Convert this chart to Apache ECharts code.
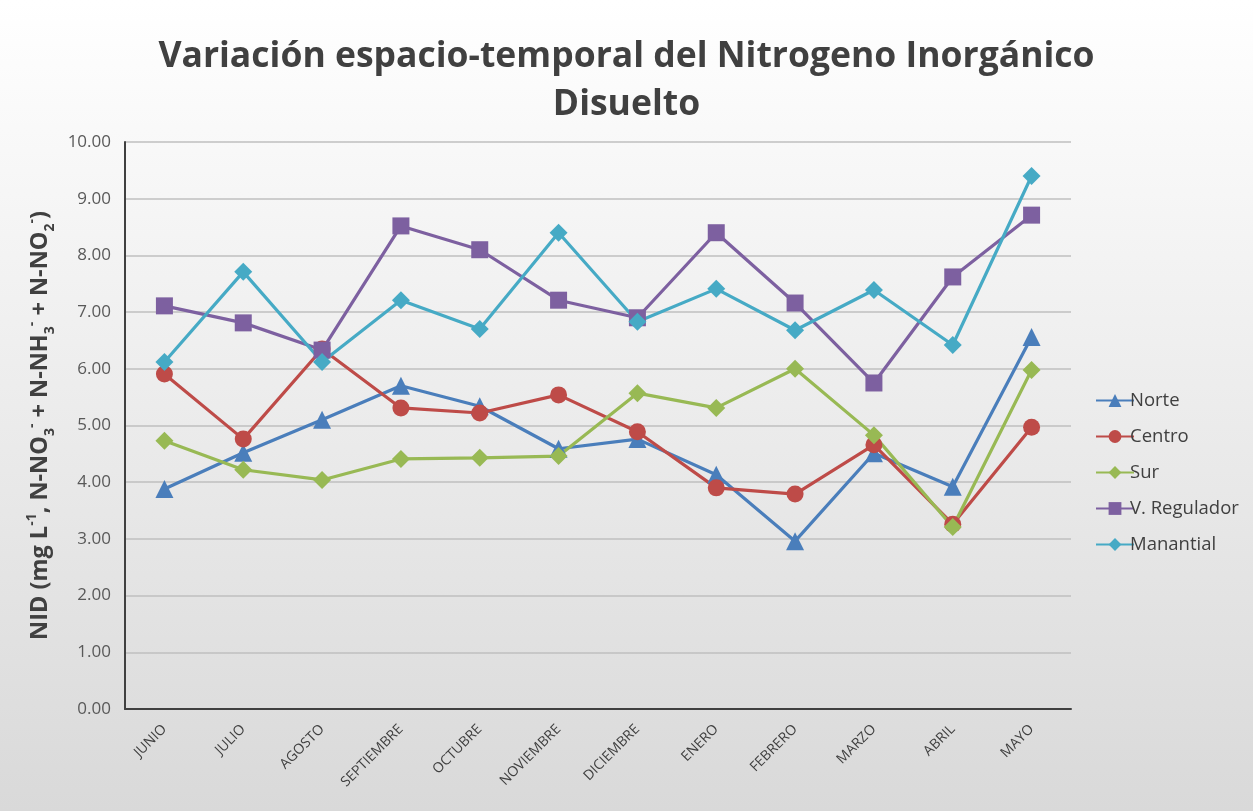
<!DOCTYPE html>
<html>
<head>
<meta charset="utf-8">
<script src="https://cdn.jsdelivr.net/npm/echarts@6/dist/echarts.min.js"></script>
<style>
  html, body { margin: 0; padding: 0; }
  #chart { width: 1253px; height: 811px; }
</style>
</head>
<body>
<div id="chart"></div>
<script>
// meses del muestreo
var meses = ['JUNIO', 'JULIO', 'AGOSTO', 'SEPTIEMBRE', 'OCTUBRE', 'NOVIEMBRE',
  'DICIEMBRE', 'ENERO', 'FEBRERO', 'MARZO', 'ABRIL', 'MAYO'];

// NID por sitio (mg/L)
var norte = [3.88, 4.52, 5.10, 5.70, 5.34, 4.59, 4.76, 4.13, 2.96, 4.51, 3.92, 6.56];
var centro = [5.91, 4.76, 6.35, 5.31, 5.22, 5.54, 4.89, 3.90, 3.79, 4.66, 3.26, 4.97];
var sur = [4.73, 4.22, 4.04, 4.41, 4.43, 4.46, 5.57, 5.31, 6.00, 4.83, 3.21, 5.98];
var vRegulador = [7.11, 6.81, 6.33, 8.52, 8.10, 7.21, 6.90, 8.40, 7.16, 5.75, 7.62, 8.71];
var manantial = [6.12, 7.71, 6.12, 7.21, 6.70, 8.40, 6.83, 7.41, 6.68, 7.39, 6.42, 9.40];

var myChart = echarts.init(document.getElementById('chart'));

function serie(nombre, datos, color, simbolo, tam) {
  return {
    name: nombre,
    type: 'line',
    data: datos,
    symbol: simbolo,
    symbolSize: tam,
    showAllSymbol: true,
    lineStyle: { color: color, width: 3.2 },
    itemStyle: { color: color },
    emphasis: { disabled: true },
    z: 3
  };
}

var option = {
  animation: false,
  backgroundColor: {
    type: 'linear', x: 0, y: 0, x2: 0, y2: 1,
    colorStops: [{ offset: 0, color: '#ffffff' }, { offset: 1, color: '#d9d9d9' }]
  },
  title: {
    text: 'Variación espacio-temporal del Nitrogeno Inorgánico\nDisuelto',
    left: 'center',
    top: 28,
    textStyle: {
      fontFamily: 'Open Sans',
      fontWeight: 'bold',
      fontSize: 35.5,
      lineHeight: 48,
      color: '#404040'
    }
  },
  legend: {
    orient: 'vertical',
    left: 1090,
    top: 386,
    itemGap: 17,
    itemWidth: 38,
    itemHeight: 16,
    textStyle: { fontFamily: 'Open Sans', fontSize: 18.5, color: '#404040', padding: [0, 0, 0, -9] },
    data: ['Norte', 'Centro', 'Sur', 'V. Regulador', 'Manantial']
  },
  grid: { left: 125, right: 182, top: 142, bottom: 102 },
  xAxis: {
    type: 'category',
    data: meses,
    boundaryGap: true,
    axisLine: { lineStyle: { color: '#404040', width: 2 } },
    axisTick: { show: false },
    axisLabel: {
      rotate: 45,
      margin: 18,
      fontFamily: 'Open Sans',
      fontSize: 14,
      color: '#404040'
    }
  },
  yAxis: {
    type: 'value',
    min: 0,
    max: 10,
    interval: 1,
    name: '{b|NID (mg L}{sup|-1}{b|, N-NO}{sub|3}{sup|-}{b| + N-NH}{sub|3}{sup|-}{b| + N-NO}{sub|2}{sup|-}{b|)}',
    nameLocation: 'middle',
    nameRotate: 90,
    nameGap: 64,
    nameTextStyle: {
      rich: {
        b: { fontFamily: 'Open Sans', fontWeight: 'bold', fontSize: 23.5, color: '#404040', lineHeight: 32, verticalAlign: 'middle' },
        sup: { fontFamily: 'Open Sans', fontWeight: 'bold', fontSize: 14, color: '#404040', lineHeight: 32, verticalAlign: 'top' },
        sub: { fontFamily: 'Open Sans', fontWeight: 'bold', fontSize: 14, color: '#404040', lineHeight: 32, verticalAlign: 'bottom' }
      }
    },
    axisLine: { show: true, lineStyle: { color: '#404040', width: 2 } },
    axisTick: { show: false },
    axisLabel: {
      margin: 14,
      fontFamily: 'Open Sans',
      fontSize: 17,
      color: '#595959',
      formatter: function (v) { return v.toFixed(2); }
    },
    splitLine: { lineStyle: { color: '#bfbfbf', width: 1.5 } }
  },
  series: [
    serie('Norte', norte, '#4a7ebb', 'triangle', 18),
    serie('Centro', centro, '#be4b48', 'circle', 17),
    serie('Sur', sur, '#98b954', 'diamond', 18),
    serie('V. Regulador', vRegulador, '#7d60a0', 'rect', 17),
    serie('Manantial', manantial, '#46aac5', 'diamond', 18)
  ]
};

myChart.setOption(option);
</script>
</body>
</html>
